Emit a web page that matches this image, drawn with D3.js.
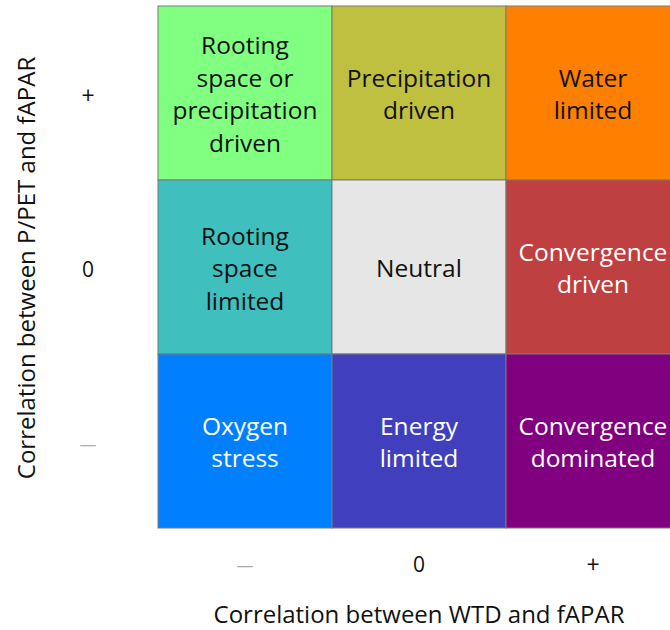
<!DOCTYPE html>
<html>
<head>
<meta charset="utf-8">
<script src="https://cdn.jsdelivr.net/npm/d3@7"></script>
<style>
  body { margin: 0; background: #fff; }
  svg text { font-family: "Open Sans", sans-serif; }
</style>
</head>
<body>
<svg id="chart" width="670" height="630"></svg>
<script>
// WTD correlation along x, P/PET correlation along y
var xCats = ["\u2014", "0", "+"]
var yCats = ["+", "0", "\u2014"]

var cellText = [
  ["Rooting\nspace or\nprecipitation\ndriven", "Precipitation\ndriven", "Water\nlimited"],
  ["Rooting\nspace\nlimited", "Neutral", "Convergence\ndriven"],
  ["Oxygen\nstress", "Energy\nlimited", "Convergence\ndominated"]
]
var cellColors = [
  ["#80ff80", "#bfbf40", "#ff8000"],
  ["#40bfbf", "#e6e6e6", "#bf4040"],
  ["#0080ff", "#4040bf", "#800080"]
]
var darkCells = ["#bf4040", "#0080ff", "#4040bf", "#800080"] // white text on these

var svg = d3.select('#chart')

var x = d3.scaleBand().domain(xCats).range([158, 680])
var y = d3.scaleBand().domain(yCats).range([6, 528])

var cells = []
yCats.forEach(function(r, i){
  xCats.forEach(function(c, j){
    cells.push({row: r, col: c, text: cellText[i][j], color: cellColors[i][j]})
  })
})

var g = svg.append('g')

g.selectAll('rect')
  .data(cells)
  .enter()
  .append('rect')
  .attr('x', d => x(d.col))
  .attr('y', d => y(d.row))
  .attr('width', x.bandwidth())
  .attr('height', y.bandwidth())
  .attr('fill', d => d.color)
  .attr('stroke', '#7a7a7a')
  .attr('stroke-width', 1)

var lh = 32.5
g.selectAll('text.cell')
  .data(cells)
  .enter()
  .append('text')
  .classed('cell', true)
  .attr('text-anchor', 'middle')
  .attr('font-size', 24.5)
  .attr('fill', d => darkCells.indexOf(d.color) >= 0 ? '#fff' : '#111')
  .each(function(d){
    var lines = d.text.split('\n')
    var cx = x(d.col) + x.bandwidth()/2
    var cy = y(d.row) + y.bandwidth()/2 + 1.5
    var t = d3.select(this)
    lines.forEach(function(l, k){
      t.append('tspan')
        .attr('x', cx)
        .attr('y', cy + (k - (lines.length-1)/2)*lh)
        .attr('dy', '0.35em')
        .text(l)
    })
  })

// tick labels
var tickSize = function(d){ return d == "\u2014" ? 17 : (d == "+" ? 23 : 21) }

svg.selectAll('text.ytick')
  .data(yCats)
  .enter()
  .append('text')
  .classed('ytick', true)
  .attr('x', 88)
  .attr('y', d => y(d) + y.bandwidth()/2 + 3)
  .attr('dy', '0.35em')
  .attr('text-anchor', 'middle')
  .attr('font-size', tickSize)
  .attr('fill', d => d == "\u2014" ? '#aaa' : '#111')
  .text(d => d)

svg.selectAll('text.xtick')
  .data(xCats)
  .enter()
  .append('text')
  .classed('xtick', true)
  .attr('x', d => x(d) + x.bandwidth()/2)
  .attr('y', 565)
  .attr('dy', '0.35em')
  .attr('text-anchor', 'middle')
  .attr('font-size', tickSize)
  .attr('fill', d => d == "\u2014" ? '#aaa' : '#111')
  .text(d => d)

// axis titles
svg.append('text')
  .attr('x', 419)
  .attr('y', 615)
  .attr('dy', '0.35em')
  .attr('text-anchor', 'middle')
  .attr('font-size', 24)
  .attr('fill', '#111')
  .text('Correlation between WTD and fAPAR')

svg.append('text')
  .attr('transform', 'translate(27,268) rotate(-90)')
  .attr('dy', '0.35em')
  .attr('text-anchor', 'middle')
  .attr('font-size', 24)
  .attr('fill', '#111')
  .text('Correlation between P/PET and fAPAR')
</script>
</body>
</html>
